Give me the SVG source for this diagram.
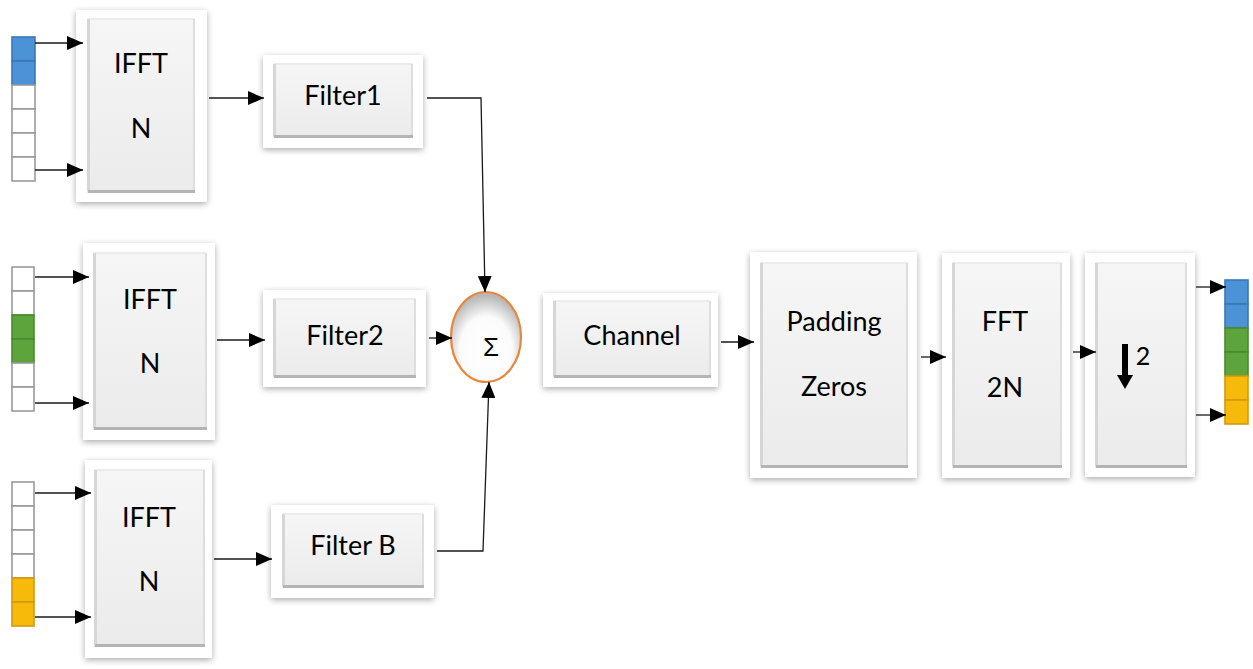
<svg xmlns="http://www.w3.org/2000/svg" width="1253" height="669" viewBox="0 0 1253 669">
  <defs>
    <filter id="shadow" x="-20%" y="-20%" width="140%" height="140%">
      <feDropShadow dx="0" dy="2" stdDeviation="3" flood-color="#000" flood-opacity="0.33"/>
    </filter>
    <linearGradient id="faceGrad" x1="0" y1="0" x2="0" y2="1">
      <stop offset="0" stop-color="#f6f6f6"/>
      <stop offset="1" stop-color="#ebebeb"/>
    </linearGradient>
    <radialGradient id="sumGrad" cx="50%" cy="64%" r="60%">
      <stop offset="0" stop-color="#ffffff"/>
      <stop offset="0.62" stop-color="#fbfbfb"/>
      <stop offset="1" stop-color="#b8b8b8"/>
    </radialGradient>
    <marker id="arrow" markerUnits="userSpaceOnUse" markerWidth="16" markerHeight="14" refX="16" refY="7" orient="auto">
      <path d="M0,0 L16,7 L0,14 Z" fill="#000"/>
    </marker>
    <style>
      .frame { fill: #ffffff; filter: url(#shadow); }
      .face { fill: url(#faceGrad); }
      .edgeL { stroke: #d6d6d6; stroke-width: 3; fill: none; }
      .edgeR { stroke: #dedede; stroke-width: 2; fill: none; }
      .edgeB { stroke: #b4b4b4; stroke-width: 3; fill: none; }
      .edgeT { stroke: #ececec; stroke-width: 2; fill: none; }
      .lbl { font-family: Lato, "Liberation Sans", sans-serif; font-size: 27px; fill: #000; text-anchor: middle; }
      .wire { stroke: #1a1a1a; stroke-width: 1.3; fill: none; }
      .arr { marker-end: url(#arrow); }
      .cell { stroke-width: 1.6; }
      .empty { fill: #ffffff; stroke: #9a9a9a; }
      .blue { fill: #4b93d6; stroke: #3b79b4; }
      .green { fill: #5ea43c; stroke: #4a8a2f; }
      .gold { fill: #f7b90a; stroke: #d39a10; }
    </style>
  </defs>

  <rect width="1253" height="669" fill="#ffffff"/>

  <!-- input vectors -->
  <g id="input1">
    <rect class="cell blue" x="12" y="37" width="23" height="24"/>
    <rect class="cell blue" x="12" y="61" width="23" height="24"/>
    <rect class="cell empty" x="12" y="85" width="23" height="24"/>
    <rect class="cell empty" x="12" y="109" width="23" height="24"/>
    <rect class="cell empty" x="12" y="133" width="23" height="24"/>
    <rect class="cell empty" x="12" y="157" width="23" height="24"/>
  </g>
  <g id="input2">
    <rect class="cell empty" x="12" y="267" width="22" height="24"/>
    <rect class="cell empty" x="12" y="291" width="22" height="24"/>
    <rect class="cell green" x="12" y="315" width="22" height="24"/>
    <rect class="cell green" x="12" y="339" width="22" height="24"/>
    <rect class="cell empty" x="12" y="363" width="22" height="24"/>
    <rect class="cell empty" x="12" y="387" width="22" height="24"/>
  </g>
  <g id="input3">
    <rect class="cell empty" x="12" y="482" width="22" height="24"/>
    <rect class="cell empty" x="12" y="506" width="22" height="24"/>
    <rect class="cell empty" x="12" y="530" width="22" height="24"/>
    <rect class="cell empty" x="12" y="554" width="22" height="24"/>
    <rect class="cell gold" x="12" y="578" width="22" height="24"/>
    <rect class="cell gold" x="12" y="602" width="22" height="24"/>
  </g>

  <!-- IFFT blocks -->
  <g id="ifft1">
    <rect class="frame" x="76" y="10" width="131" height="192"/>
    <rect class="face" x="87" y="18" width="108" height="175"/>
    <path class="edgeT" d="M88,19 H194"/>
    <path class="edgeL" d="M88.5,19 V191"/>
    <path class="edgeR" d="M194,19 V191"/>
    <path class="edgeB" d="M88,191.5 H195"/>
    <text class="lbl" x="141" y="73">IFFT</text>
    <text class="lbl" x="141" y="138">N</text>
  </g>
  <g id="ifft2">
    <rect class="frame" x="83" y="243" width="132" height="197"/>
    <rect class="face" x="93" y="252" width="114" height="178"/>
    <path class="edgeT" d="M94,253 H206"/>
    <path class="edgeL" d="M94.5,253 V428"/>
    <path class="edgeR" d="M206,253 V428"/>
    <path class="edgeB" d="M94,428.5 H207"/>
    <text class="lbl" x="150" y="309">IFFT</text>
    <text class="lbl" x="150" y="373">N</text>
  </g>
  <g id="ifft3">
    <rect class="frame" x="85" y="460" width="127" height="198"/>
    <rect class="face" x="94" y="469" width="111" height="178"/>
    <path class="edgeT" d="M95,470 H204"/>
    <path class="edgeL" d="M95.5,470 V645"/>
    <path class="edgeR" d="M204,470 V645"/>
    <path class="edgeB" d="M95,645.5 H205"/>
    <text class="lbl" x="149" y="527">IFFT</text>
    <text class="lbl" x="149" y="591">N</text>
  </g>

  <!-- filters -->
  <g id="filter1">
    <rect class="frame" x="263" y="55" width="160" height="93"/>
    <rect class="face" x="273" y="63" width="140" height="75"/>
    <path class="edgeT" d="M274,64 H412"/>
    <path class="edgeL" d="M274.5,64 V136"/>
    <path class="edgeR" d="M412,64 V136"/>
    <path class="edgeB" d="M274,136.5 H413"/>
    <text class="lbl" x="343" y="105">Filter1</text>
  </g>
  <g id="filter2">
    <rect class="frame" x="263" y="290" width="163" height="97"/>
    <rect class="face" x="273" y="298" width="143" height="80"/>
    <path class="edgeT" d="M274,299 H415"/>
    <path class="edgeL" d="M274.5,299 V376"/>
    <path class="edgeR" d="M415,299 V376"/>
    <path class="edgeB" d="M274,376.5 H416"/>
    <text class="lbl" x="345" y="345">Filter2</text>
  </g>
  <g id="filterB">
    <rect class="frame" x="271" y="505" width="163" height="93"/>
    <rect class="face" x="282" y="513" width="142" height="75"/>
    <path class="edgeT" d="M283,514 H423"/>
    <path class="edgeL" d="M283.5,514 V586"/>
    <path class="edgeR" d="M423,514 V586"/>
    <path class="edgeB" d="M283,586.5 H424"/>
    <text class="lbl" x="353" y="555">Filter B</text>
  </g>

  <!-- summing node -->
  <g id="sum">
    <ellipse cx="486" cy="337" rx="35" ry="45" fill="url(#sumGrad)" stroke="#e8873a" stroke-width="2.2"/>
    <text x="491" y="356" font-family="'Liberation Sans', 'DejaVu Sans', sans-serif" font-size="26" fill="#000" text-anchor="middle">Σ</text>
  </g>

  <g id="channel">
    <rect class="frame" x="543" y="293" width="175" height="94"/>
    <rect class="face" x="553" y="300" width="158" height="78"/>
    <path class="edgeT" d="M554,301 H710"/>
    <path class="edgeL" d="M554.5,301 V376"/>
    <path class="edgeR" d="M710,301 V376"/>
    <path class="edgeB" d="M554,376.5 H711"/>
    <text class="lbl" x="632" y="345">Channel</text>
  </g>

  <g id="padding">
    <rect class="frame" x="750" y="252" width="167" height="226"/>
    <rect class="face" x="760" y="262" width="148" height="206"/>
    <path class="edgeT" d="M761,263 H907"/>
    <path class="edgeL" d="M761.5,263 V466"/>
    <path class="edgeR" d="M907,263 V466"/>
    <path class="edgeB" d="M761,466.5 H908"/>
    <text class="lbl" x="834" y="331">Padding</text>
    <text class="lbl" x="834" y="396">Zeros</text>
  </g>

  <g id="fft">
    <rect class="frame" x="942" y="253" width="128" height="225"/>
    <rect class="face" x="952" y="262" width="110" height="206"/>
    <path class="edgeT" d="M953,263 H1061"/>
    <path class="edgeL" d="M953.5,263 V466"/>
    <path class="edgeR" d="M1061,263 V466"/>
    <path class="edgeB" d="M953,466.5 H1062"/>
    <text class="lbl" x="1005" y="331">FFT</text>
    <text class="lbl" x="1005" y="397">2N</text>
  </g>

  <g id="downsample">
    <rect class="frame" x="1085" y="253" width="110" height="224"/>
    <rect class="face" x="1095" y="262" width="92" height="206"/>
    <path class="edgeT" d="M1096,263 H1186"/>
    <path class="edgeL" d="M1096.5,263 V466"/>
    <path class="edgeR" d="M1186,263 V466"/>
    <path class="edgeB" d="M1096,466.5 H1187"/>
    <rect x="1122" y="344" width="6" height="32" fill="#000"/>
    <path d="M1117,375 L1133,375 L1125,389 Z" fill="#000"/>
    <text x="1143" y="365" font-family="Lato, 'Liberation Sans', sans-serif" font-size="25" fill="#000" text-anchor="middle">2</text>
  </g>

  <!-- output vector -->
  <g id="output">
    <rect class="cell blue" x="1225" y="280" width="23" height="24"/>
    <rect class="cell blue" x="1225" y="304" width="23" height="24"/>
    <rect class="cell green" x="1225" y="328" width="23" height="24"/>
    <rect class="cell green" x="1225" y="352" width="23" height="24"/>
    <rect class="cell gold" x="1225" y="376" width="23" height="24"/>
    <rect class="cell gold" x="1225" y="400" width="23" height="24"/>
  </g>

  <!-- connectors -->
  <g id="connectors">
    <path class="wire arr" d="M35,43 H83"/>
    <path class="wire arr" d="M35,170 H83"/>
    <path class="wire arr" d="M35,277 H89"/>
    <path class="wire arr" d="M35,403 H89"/>
    <path class="wire arr" d="M35,493 H91"/>
    <path class="wire arr" d="M35,617 H91"/>
    <path class="wire arr" d="M209,98 H264"/>
    <path class="wire arr" d="M217,340 H265"/>
    <path class="wire arr" d="M214,559 H272"/>
    <path class="wire arr" d="M427,98 H481 L485,292"/>
    <path class="wire arr" d="M429,338 H452"/>
    <path class="wire arr" d="M437,551 H483 L489,382"/>
    <path class="wire arr" d="M721,342 H754"/>
    <path class="wire arr" d="M921,357 H946"/>
    <path class="wire arr" d="M1073,352 H1096"/>
    <path class="wire arr" d="M1196,287 H1226"/>
    <path class="wire arr" d="M1196,415 H1226"/>
  </g>
</svg>
